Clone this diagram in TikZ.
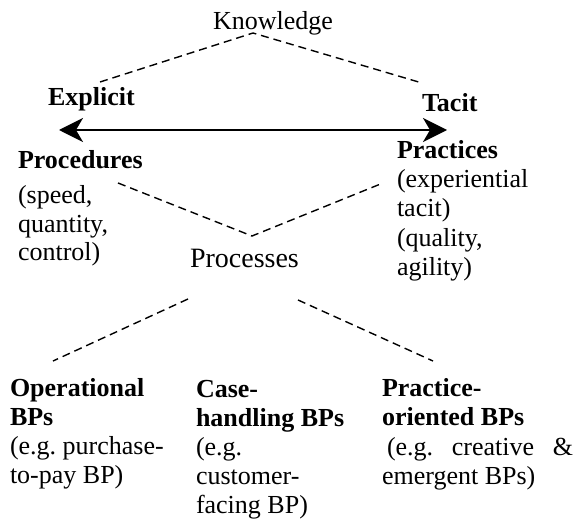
\documentclass[tikz,border=0pt]{standalone}
\usepackage{fontspec}
\setmainfont{Liberation Serif}
\usetikzlibrary{arrows.meta}
% stack of lines; first line's baseline is the block's baseline
\newcommand{\linestack}[2]{\vtop{\baselineskip=#1\lineskiplimit=-100bp\lineskip=0bp\relax #2}}
\frenchspacing
\begin{document}
\begin{tikzpicture}[x=1bp,y=-1bp,
  txt/.style={anchor=base west, inner sep=0pt, outer sep=0pt,
              font=\fontsize{26bp}{29bp}\selectfont},
  head/.style={txt, font=\fontsize{26bp}{29bp}\selectfont\bfseries},
  link/.style={dash pattern=on 8bp off 5bp, line width=1.4bp},
  axis/.style={line width=2bp,
               {Stealth[length=24bp,width=24bp,inset=7bp]}-{Stealth[length=24bp,width=24bp,inset=7bp]}}]
\useasboundingbox (0,0) rectangle (579,523);

% top level
\node[txt] (know) at (213,30) {Knowledge};
\node[head] (expl) at (48,106) {Explicit};
\node[head] (tac) at (422,112) {Tacit};

% explicit--tacit axis
\coordinate (aL) at (59,130);
\coordinate (aR) at (447,130);
\draw[axis] (aL) -- (aR);

% the two poles
\node[txt] (proc) at (18,169) {\linestack{28bp}{%
  \hbox{\bfseries Procedures}\vskip7bp
  \hbox{(speed,}\hbox{quantity,}\hbox{control)}}};
\node[txt] (prac) at (397,159) {\linestack{29bp}{%
  \hbox{\bfseries Practices}\hbox{(experiential}\hbox{tacit)}
  \hbox{(quality,}\hbox{agility)}}};

\node[txt, font=\fontsize{28bp}{30bp}\selectfont] (procs) at (190,267) {Processes};

% process kinds
\node[txt] (oper) at (10,396) {\linestack{29bp}{%
  \hbox{\bfseries Operational}\hbox{\bfseries BPs}
  \hbox{(e.g. purchase-}\hbox{to-pay BP)}}};
\node[txt] (case) at (196,397) {\linestack{29bp}{%
  \hbox{\bfseries Case-}\hbox{\bfseries handling BPs}
  \hbox{(e.g.}\hbox{customer-}\hbox{facing BP)}}};
\node[txt] (pracbp) at (382,396) {\linestack{29.5bp}{%
  \hbox{\bfseries Practice-}\hbox{\bfseries oriented BPs}
  \hbox to 191bp{\hskip5bp(e.g.\hfill creative\hfill\&}
  \hbox{emergent BPs)}}};

% dashed links
\coordinate (k1) at (100,82);
\coordinate (k0) at (253,33);
\coordinate (k2) at (422,83);
\draw[link] (k1) -- (k0) -- (k2);

\coordinate (p1) at (118,183);
\coordinate (p0) at (252,236);
\coordinate (p2) at (383,183);
\draw[link] (p1) -- (p0) -- (p2);

\coordinate (b1) at (188,299);
\coordinate (b2) at (53,361);
\coordinate (b3) at (298,300);
\coordinate (b4) at (433,361);
\draw[link] (b1) -- (b2);
\draw[link] (b3) -- (b4);
\end{tikzpicture}
\end{document}
